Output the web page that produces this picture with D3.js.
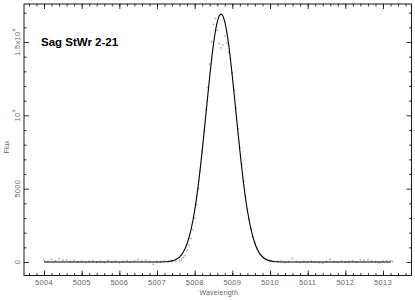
<!DOCTYPE html>
<html>
<head>
<meta charset="utf-8">
<script src="https://cdn.jsdelivr.net/npm/d3@7"></script>
<style>
  body { margin: 0; background: #fff; }
  svg { display: block; }
</style>
</head>
<body>
<div id="chart"></div>
<script>
// observed spectrum (wavelength in A, flux)
const obsWave = [
  5004.0, 5004.1, 5004.2, 5004.3, 5004.4, 5004.5, 5004.6, 5004.7, 5004.8, 5004.9,
  5005.0, 5005.1, 5005.2, 5005.3, 5005.4, 5005.5, 5005.6, 5005.7, 5005.8, 5005.9,
  5006.0, 5006.1, 5006.2, 5006.3, 5006.4, 5006.5, 5006.6, 5006.7, 5006.8, 5006.9,
  5007.0, 5007.1, 5007.2, 5007.3, 5007.4, 5007.5, 5007.6,
  5007.65, 5007.7, 5007.75, 5007.8, 5007.85, 5007.9, 5007.95, 5008.0, 5008.05, 5008.1,
  5008.15, 5008.2, 5008.25, 5008.3, 5008.35, 5008.4, 5008.45, 5008.5, 5008.55, 5008.6,
  5008.65, 5008.7, 5008.75, 5008.8, 5008.85, 5008.9, 5008.95, 5009.0, 5009.05, 5009.1,
  5009.15, 5009.2, 5009.25, 5009.3, 5009.35, 5009.4, 5009.45, 5009.5, 5009.55, 5009.6,
  5009.65, 5009.7, 5009.75, 5009.8, 5009.85, 5009.9, 5009.95, 5010.0,
  5010.1, 5010.2, 5010.3, 5010.4, 5010.5, 5010.6, 5010.7, 5010.8, 5010.9, 5011.0,
  5011.1, 5011.2, 5011.3, 5011.4, 5011.5, 5011.6, 5011.7, 5011.8, 5011.9, 5012.0,
  5012.1, 5012.2, 5012.3, 5012.4, 5012.5, 5012.6, 5012.7, 5012.8, 5012.9, 5013.0,
  5013.1, 5013.2, 5013.25
]
const obsFlux = [
  120, 60, 180, 90, 220, 110, 150, 40, 90, 20,
  60, -20, 40, 80, 0, 50, -40, 90, 20, 60,
  -30, 40, 110, 30, 80, 150, 60, 120, 10, -160,
  40, 30, 60, 20, 50, 30, 90,
  150, 300, 450, 800, 1150, 1600, 2200, 3000, 3900, 5000,
  6200, 7500, 8900, 10400, 11900, 13500, 15000, 16200, 16600, 15800,
  14900, 14600, 14800, 15400, 14900, 14300, 13900, 12900, 11700, 10500,
  9100, 7800, 6700, 5500, 4500, 3600, 2900, 2250, 1700, 1300,
  950, 700, 500, 360, 250, 180, 120, 80,
  40, 20, 60, -10, 30, 230, 40, -20, 50, 20,
  60, 10, -40, -80, 30, 180, 40, 20, 70, 10,
  50, 90, 30, 130, 110, 140, 60, 20, -40, 40,
  90, 60, 30
]

// fitted profile
const fitWave = [
  5004.0, 5006.9, 5007.1, 5007.2, 5007.3, 5007.4, 5007.5, 5007.6, 5007.7, 5007.8,
  5007.9, 5008.0, 5008.1, 5008.2, 5008.3, 5008.4, 5008.5, 5008.6, 5008.7, 5008.8,
  5008.9, 5009.0, 5009.1, 5009.2, 5009.3, 5009.4, 5009.5, 5009.6, 5009.7, 5009.8,
  5009.9, 5010.0, 5010.1, 5010.2, 5010.3, 5010.5, 5013.2
]
const fitFlux = [
  0, 0, 5, 13, 32, 75, 167, 350, 685, 1260,
  2170, 3510, 5330, 7590, 10120, 12660, 14870, 16370, 16900, 16370,
  14870, 12660, 10120, 7590, 5330, 3510, 2170, 1260, 685, 350,
  167, 75, 32, 13, 5, 0, 0
]

const xMajor = [5004, 5005, 5006, 5007, 5008, 5009, 5010, 5011, 5012, 5013]
const yMajor = [0, 5000, 10000, 15000]

const width = 415
const height = 300
const plotLeft = 24
const plotRight = 411.5
const plotTop = 4
const plotBottom = 275.5

const svg = d3.select('#chart')
  .append('svg')
  .attr('width', width)
  .attr('height', height)

const x = d3.scaleLinear()
  .domain([5004 - 20 / 37.67, 5013 + 28.5 / 37.67])
  .range([plotLeft, plotRight])
const y = d3.scaleLinear()
  .domain([-(plotBottom - 262) / 14.6667 * 1000, (262 - plotTop) / 14.6667 * 1000])
  .range([plotBottom, plotTop])

// minor ticks every 0.2 A and 1000 counts
const xMinor = d3.range(5003.6, 5013.75, 0.2).map(v => +v.toFixed(1))
  .filter(v => x(v) > plotLeft + 1 && x(v) < plotRight - 1)
const yMinor = d3.range(0, 17600, 1000).filter(v => !yMajor.includes(v))

function tickAxis (axis, ticks, size, tx, ty) {
  const g = svg.append('g')
    .attr('transform', `translate(${tx},${ty})`)
    .call(axis.tickValues(ticks).tickSize(size).tickFormat(''))
  g.select('.domain').remove()
  g.selectAll('line').attr('stroke', '#000').attr('stroke-width', 0.8)
  return g
}

tickAxis(d3.axisBottom(x), xMinor, -2.5, 0, plotBottom)
tickAxis(d3.axisBottom(x), xMajor, -5, 0, plotBottom)
tickAxis(d3.axisTop(x), xMinor, -2.5, 0, plotTop)
tickAxis(d3.axisTop(x), xMajor, -5, 0, plotTop)
tickAxis(d3.axisLeft(y), yMinor, -2.5, plotLeft, 0)
tickAxis(d3.axisLeft(y), yMajor, -5, plotLeft, 0)
tickAxis(d3.axisRight(y), yMinor, -2.5, plotRight, 0)
tickAxis(d3.axisRight(y), yMajor, -5, plotRight, 0)

// frame
svg.append('rect')
  .attr('x', plotLeft)
  .attr('y', plotTop)
  .attr('width', plotRight - plotLeft)
  .attr('height', plotBottom - plotTop)
  .attr('fill', 'none')
  .attr('stroke', '#000')
  .attr('stroke-width', 0.9)

const labelFont = "'Liberation Sans', Arial, sans-serif"
const labelColor = '#666'

// x tick labels
svg.append('g')
  .selectAll('text')
  .data(xMajor)
  .join('text')
  .attr('x', d => x(d))
  .attr('y', 284.5)
  .attr('text-anchor', 'middle')
  .attr('font-family', labelFont)
  .attr('font-size', 7.5)
  .attr('letter-spacing', 0.3)
  .attr('fill', labelColor)
  .text(d => d)

// y tick labels, rotated
const yLab = svg.append('g')
  .selectAll('text')
  .data(yMajor)
  .join('text')
  .attr('transform', d => `translate(19.5,${y(d)}) rotate(-90)`)
  .attr('text-anchor', 'middle')
  .attr('font-family', labelFont)
  .attr('font-size', 7.5)
  .attr('letter-spacing', 0.3)
  .attr('fill', labelColor)
yLab.each(function (d) {
  const t = d3.select(this)
  if (d === 15000) {
    t.append('tspan').text('1.5x10')
    t.append('tspan').attr('font-size', 5.5).attr('dy', -3.5).text('4')
  } else if (d === 10000) {
    t.append('tspan').text('10')
    t.append('tspan').attr('font-size', 5.5).attr('dy', -3.5).text('4')
  } else {
    t.text(d)
  }
})

// axis titles
svg.append('text')
  .attr('x', (plotLeft + plotRight) / 2 + 1)
  .attr('y', 294.5)
  .attr('text-anchor', 'middle')
  .attr('font-family', labelFont)
  .attr('font-size', 7)
  .attr('letter-spacing', 0.2)
  .attr('fill', labelColor)
  .text('Wavelength')

svg.append('text')
  .attr('transform', 'translate(8.5,147) rotate(-90)')
  .attr('text-anchor', 'middle')
  .attr('font-family', labelFont)
  .attr('font-size', 7)
  .attr('fill', labelColor)
  .text('Flux')

// observed points as small crosses
const pts = obsWave.map((w, i) => ({ w, f: obsFlux[i] }))
svg.append('g')
  .selectAll('path')
  .data(pts)
  .join('path')
  .attr('d', d => {
    const px = x(d.w)
    const py = y(d.f)
    return `M${px - 1.1},${py}H${px + 1.1}M${px},${py - 1.1}V${py + 1.1}`
  })
  .attr('stroke', '#9a9a9a')
  .attr('stroke-width', 0.6)
  .attr('fill', 'none')

// fit line
const fitPts = fitWave.map((w, i) => ({ w, f: fitFlux[i] }))
svg.append('path')
  .datum(fitPts)
  .attr('d', d3.line()
    .x(d => x(d.w))
    .y(d => y(d.f))
    .curve(d3.curveMonotoneX))
  .attr('fill', 'none')
  .attr('stroke', '#000')
  .attr('stroke-width', 1.1)

// object name
svg.append('text')
  .attr('x', 41)
  .attr('y', 46)
  .attr('font-family', labelFont)
  .attr('font-weight', 'bold')
  .attr('font-size', 11.5)
  .attr('fill', '#000')
  .text('Sag StWr 2-21')
</script>
</body>
</html>
